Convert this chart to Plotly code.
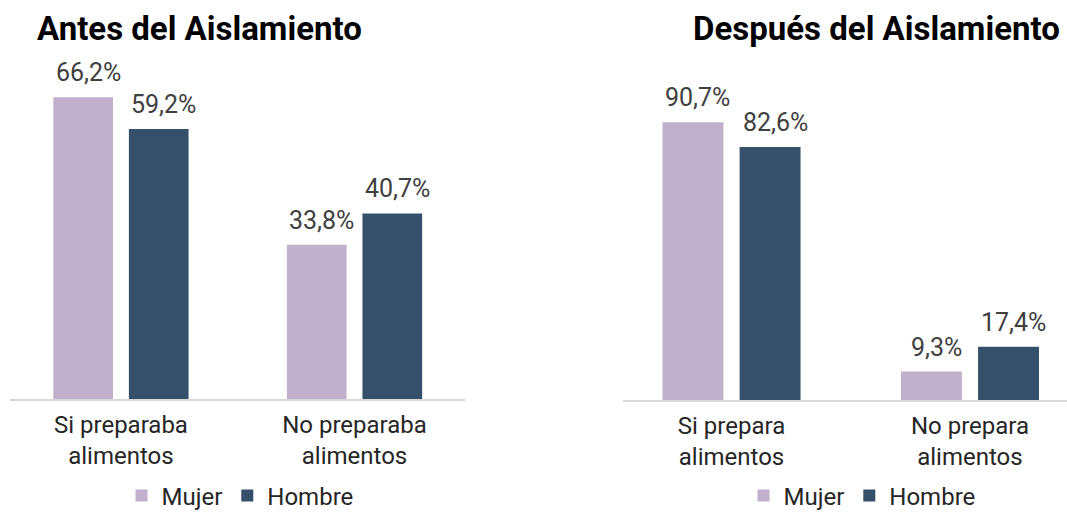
import plotly.graph_objects as go

# ---- data ----
cats_antes = ["Si preparaba<br>alimentos", "No preparaba<br>alimentos"]
cats_despues = ["Si prepara<br>alimentos", "No prepara<br>alimentos"]
mujer_antes = [66.2, 33.8]
hombre_antes = [59.2, 40.7]
mujer_despues = [90.7, 9.3]
hombre_despues = [82.6, 17.4]
series_names = ["Mujer", "Hombre"]
titles = ["Antes del Aislamiento", "Después del Aislamiento"]

# ---- style ----
C_MUJER = "#C0B0CB"
C_HOMBRE = "#36506B"
FONT = "Roboto"
W, H = 1067, 512
BARGAP = 0.353
BARGROUPGAP = 0.21


def fmt(v):
    return f"{v:.1f}".replace(".", ",") + "%"


fig = go.Figure()

panels = [
    (cats_antes, mujer_antes, hombre_antes, "x", "y", "legend"),
    (cats_despues, mujer_despues, hombre_despues, "x2", "y2", "legend2"),
]
for cats, muj, hom, xa, ya, lg in panels:
    for name, vals, col in [(series_names[0], muj, C_MUJER), (series_names[1], hom, C_HOMBRE)]:
        fig.add_trace(go.Bar(
            x=cats, y=vals, name=name, marker=dict(color=col, line=dict(width=0)),
            xaxis=xa, yaxis=ya, legend=lg, hoverinfo="skip",
        ))

# value labels above each bar, placed via data coordinates
slot = (1 - BARGAP) / 2
annotations = []
for cats, muj, hom, xa, ya, lg in panels:
    for k, vals in enumerate([muj, hom]):
        off = (k - 0.5) * slot
        for i, v in enumerate(vals):
            annotations.append(dict(
                x=i + off, y=v, xref=xa, yref=ya, text=fmt(v), showarrow=False,
                yanchor="bottom", xanchor="center", yshift=8, xshift=5,
                font=dict(family=FONT, size=25, color="#404040"),
            ))

# panel titles
annotations.append(dict(x=35 / W, y=1 - 28 / H, xref="paper", yref="paper", text=f"<b>{titles[0]}</b>",
                        showarrow=False, xanchor="left", yanchor="middle",
                        font=dict(family=FONT, size=33, color="#000000")))
annotations.append(dict(x=1062 / W, y=1 - 28 / H, xref="paper", yref="paper", text=f"<b>{titles[1]}</b>",
                        showarrow=False, xanchor="right", yanchor="middle",
                        font=dict(family=FONT, size=33, color="#000000")))

axis_common = dict(
    type="category", showgrid=False, zeroline=False, showline=True,
    linecolor="#D9D9D9", linewidth=1.5, ticks="", fixedrange=True,
    ticklabelstandoff=3,
    tickfont=dict(family=FONT, size=24, color="#262626"),
)
yaxis_common = dict(showgrid=False, zeroline=False, showline=False, showticklabels=False, fixedrange=True)

legend_common = dict(orientation="h", y=1 - 496 / H, xanchor="center", yanchor="middle",
                     font=dict(family=FONT, size=24, color="#262626"), itemwidth=30,
                     bgcolor="rgba(0,0,0,0)", tracegroupgap=0)

BASE_L, BASE_R, TOP = 399, 400, 60
fig.update_layout(
    width=W, height=H,
    margin=dict(l=0, r=0, t=0, b=0, autoexpand=False),
    paper_bgcolor="white", plot_bgcolor="white",
    barmode="group", bargap=BARGAP, bargroupgap=BARGROUPGAP,
    xaxis=dict(domain=[10 / W, 465 / W], range=[-0.475, 1.473], anchor="y", automargin=False, **axis_common),
    xaxis2=dict(domain=[623 / W, 1.0], range=[-0.455, 1.407], anchor="y2", automargin=False, **axis_common),
    yaxis=dict(domain=[1 - BASE_L / H, 1 - TOP / H], range=[0, (BASE_L - TOP) / 4.56], anchor="x", **yaxis_common),
    yaxis2=dict(domain=[1 - BASE_R / H, 1 - TOP / H], range=[0, (BASE_R - TOP) / 3.063], anchor="x2", **yaxis_common),
    legend=dict(x=240 / W, **legend_common),
    legend2=dict(x=862 / W, **legend_common),
    annotations=annotations,
    showlegend=True,
)

fig.write_html(
    "out.html",
    config={"displayModeBar": False},
    post_script="document.body.style.margin='0px';document.body.style.overflow='hidden';",
)
